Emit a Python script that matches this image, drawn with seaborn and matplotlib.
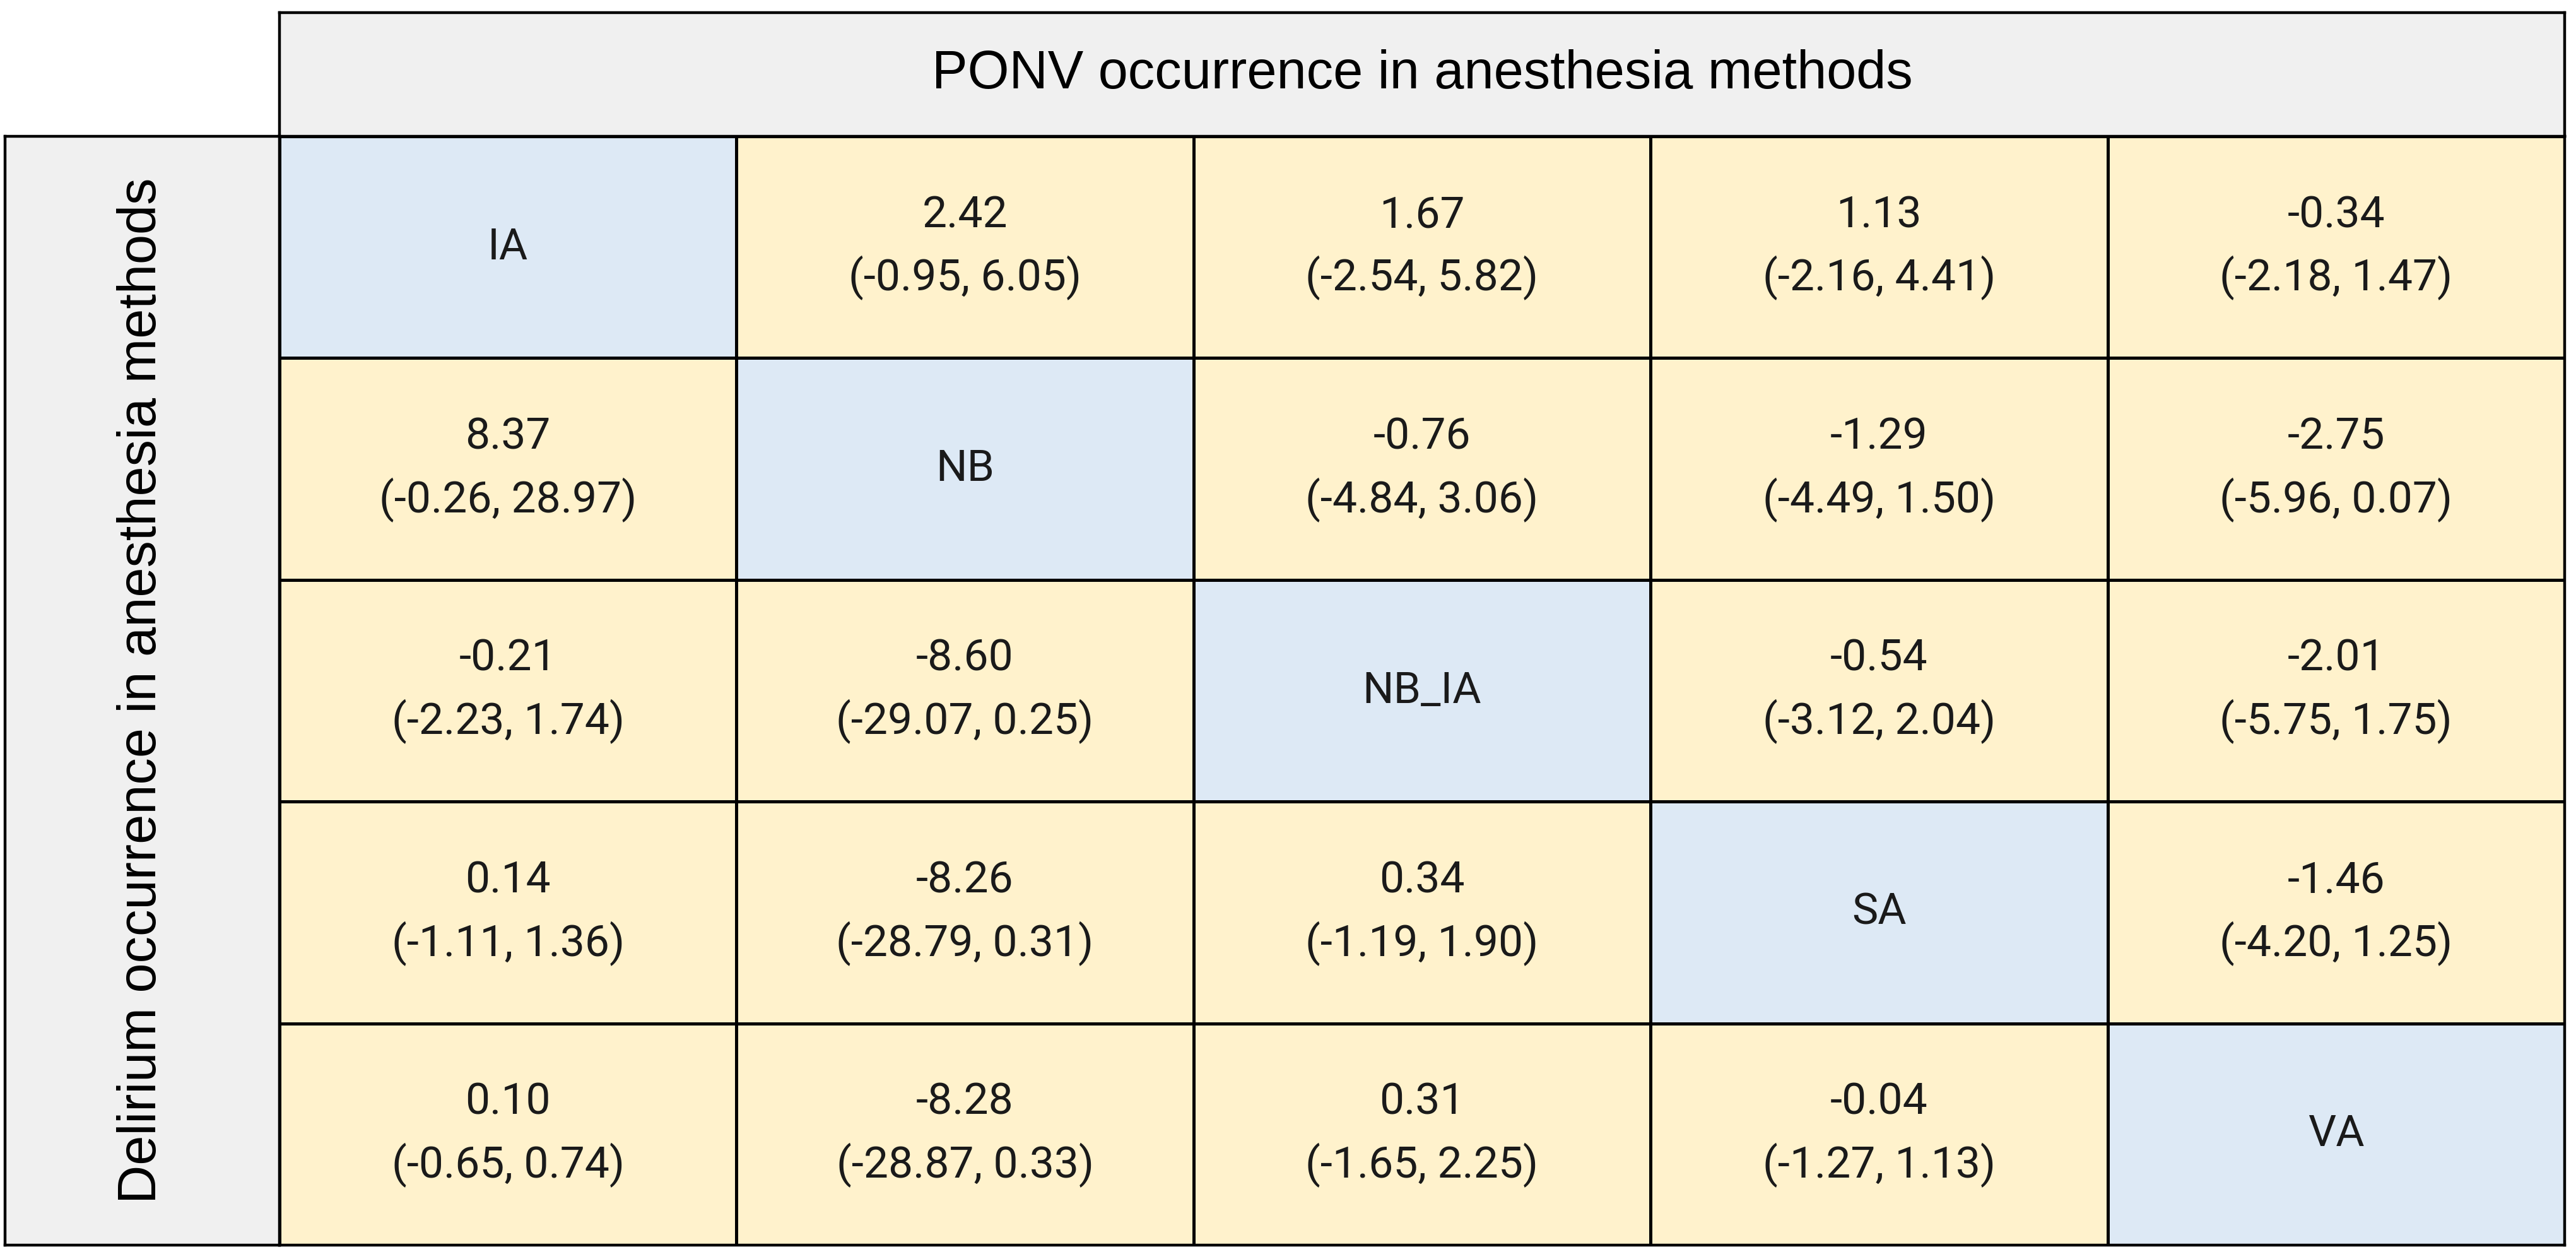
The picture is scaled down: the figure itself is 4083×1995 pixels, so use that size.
import numpy as np
import pandas as pd
import matplotlib
matplotlib.use("Agg")
import matplotlib.pyplot as plt
from matplotlib.colors import ListedColormap
import seaborn as sns

methods = ["IA", "NB", "NB_IA", "SA", "VA"]

# mean difference with 95% CI, row = delirium (lower), column = PONV (upper)
est = [
    [np.nan, 2.42, 1.67, 1.13, -0.34],
    [8.37, np.nan, -0.76, -1.29, -2.75],
    [-0.21, -8.60, np.nan, -0.54, -2.01],
    [0.14, -8.26, 0.34, np.nan, -1.46],
    [0.10, -8.28, 0.31, -0.04, np.nan],
]
low = [
    [np.nan, -0.95, -2.54, -2.16, -2.18],
    [-0.26, np.nan, -4.84, -4.49, -5.96],
    [-2.23, -29.07, np.nan, -3.12, -5.75],
    [-1.11, -28.79, -1.19, np.nan, -4.20],
    [-0.65, -28.87, -1.65, -1.27, np.nan],
]
high = [
    [np.nan, 6.05, 5.82, 4.41, 1.47],
    [28.97, np.nan, 3.06, 1.50, 0.07],
    [1.74, 0.25, np.nan, 2.04, 1.75],
    [1.36, 0.31, 1.90, np.nan, 1.25],
    [0.74, 0.33, 2.25, 1.13, np.nan],
]

top_title = "PONV occurrence in anesthesia methods"
side_title = "Delirium occurrence in anesthesia methods"

n = len(methods)
labels = []
for i in range(n):
    row = []
    for j in range(n):
        if i == j:
            row.append(methods[i])
        else:
            row.append(f"{est[i][j]:.2f}\n({low[i][j]:.2f}, {high[i][j]:.2f})")
    labels.append(row)

is_diag = pd.DataFrame(np.eye(n), index=methods, columns=methods)

W, H = 4083, 1995
fig = plt.figure(figsize=(W / 100, H / 100), dpi=100)

x0, x1 = 443, 4065
y_top, y_head, y_bot = 20, 216, 1973

def box(px_left, px_top, px_right, px_bottom):
    return [px_left / W, 1 - px_bottom / H, (px_right - px_left) / W, (px_bottom - px_top) / H]

ax = fig.add_axes(box(x0, y_head, x1, y_bot))
sns.heatmap(
    is_diag,
    ax=ax,
    cmap=ListedColormap(["#fff2cc", "#dde9f5"]),
    cbar=False,
    annot=np.array(labels),
    fmt="",
    linewidths=2.4,
    linecolor="black",
    annot_kws={"fontsize": 50, "color": "#1a1a1a", "family": "Roboto", "linespacing": 1.55},
)
ax.set_xticks([])
ax.set_yticks([])
ax.set_xlabel("")
ax.set_ylabel("")
for s in ax.spines.values():
    s.set_visible(True)
    s.set_linewidth(3.2)
    s.set_color("black")

head = fig.add_axes(box(x0, y_top, x1, y_head))
head.set_facecolor("#f0f0f0")
head.set_xticks([])
head.set_yticks([])
for s in head.spines.values():
    s.set_linewidth(3.2)
head.text(0.5, 0.5, top_title, ha="center", va="center",
          fontsize=61, family="Liberation Sans", transform=head.transAxes)

side = fig.add_axes(box(8, y_head, x0, y_bot))
side.set_facecolor("#f0f0f0")
side.set_xticks([])
side.set_yticks([])
for s in side.spines.values():
    s.set_linewidth(3.2)
side.text(0.5, 0.5, side_title, ha="center", va="center", rotation=90,
          fontsize=61, family="Liberation Sans", transform=side.transAxes)

fig.savefig("out.png", dpi=100, facecolor="white")
